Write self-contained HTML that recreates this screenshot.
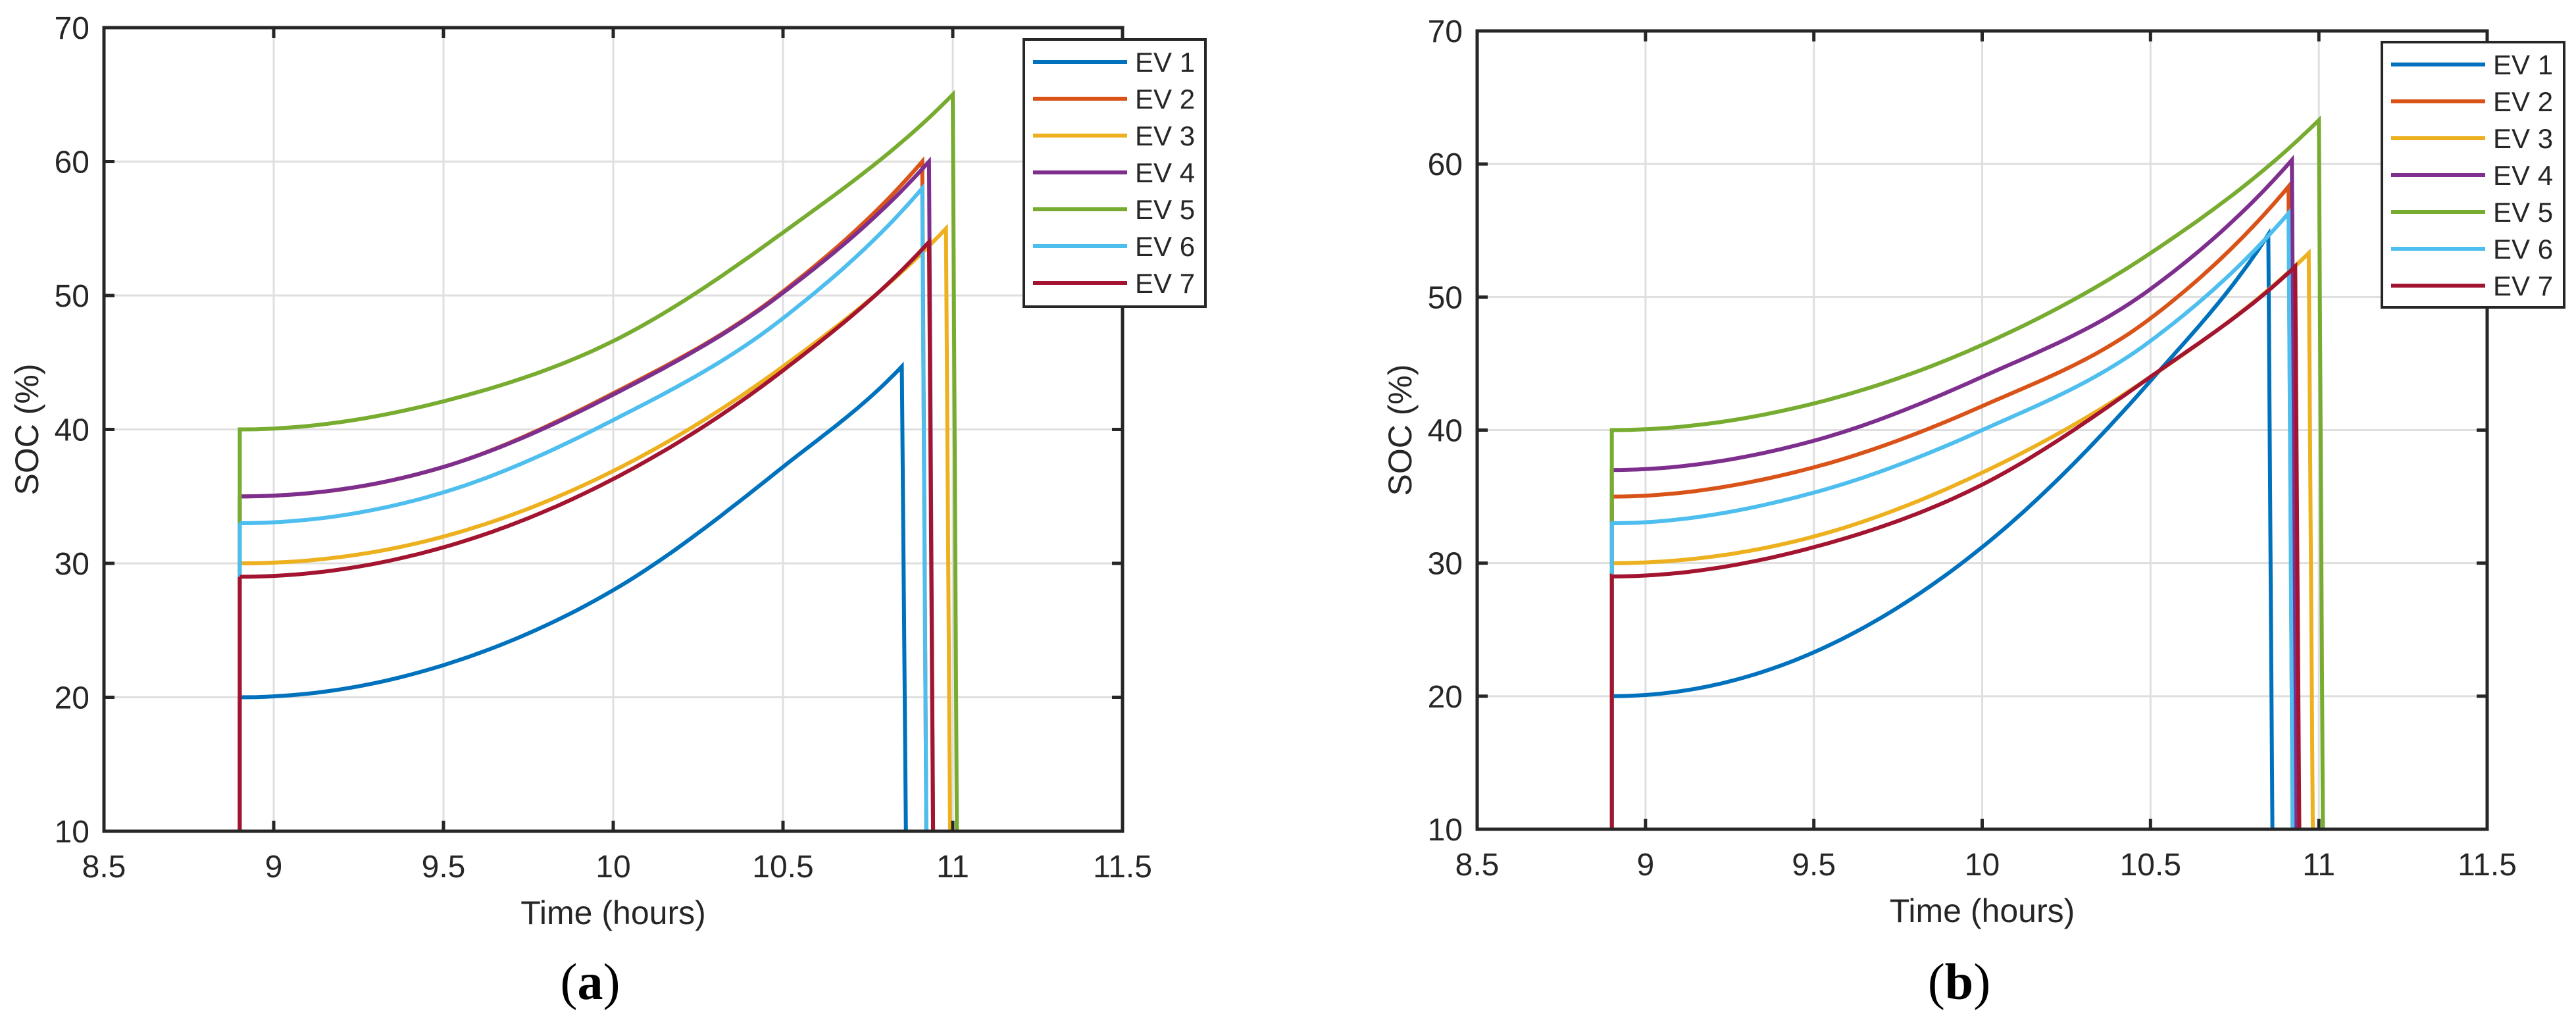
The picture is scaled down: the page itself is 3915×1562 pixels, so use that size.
<!DOCTYPE html>
<html><head><meta charset="utf-8">
<style>
html,body{margin:0;padding:0;background:#fff;}
svg{display:block;}
text{font-family:"Liberation Sans",Arial,sans-serif;fill:#262626;}
</style></head>
<body>
<svg id="fig" width="3915" height="1562" viewBox="0 0 3915 1562" xmlns="http://www.w3.org/2000/svg"></svg>
<script>
// ---- data ----
const seriesNames = ["EV 1","EV 2","EV 3","EV 4","EV 5","EV 6","EV 7"];
const seriesColors = ["#0072BD","#D95319","#EDB120","#7E2F8E","#77AC30","#4DBEEE","#A2142F"];
const xTicks = [8.5,9,9.5,10,10.5,11,11.5];
const xTickLabels = ["8.5","9","9.5","10","10.5","11","11.5"];
const yTicks = [10,20,30,40,50,60,70];
const yTickLabels = ["10","20","30","40","50","60","70"];
const sampleTimes = [9.5, 10, 10.5];
const startTime = 8.9;
// panel (a)
const aStartSOC = [20,35,30,35,40,33,29];
const aMidSOC = [[22.4,28.0,37.2],[37.2,42.7,50.3],[32.0,36.9,44.7],[37.2,42.6,50.2],[42.1,46.6,54.7],[35.3,40.7,48.3],[31.2,36.3,44.4]];
const aPeakSOC = [44.7,60,55,60,65,58,54];
const aEndTime = [10.85,10.91,10.98,10.93,11.0,10.91,10.93];
// panel (b)
const bStartSOC = [20,35,30,37,40,33,29];
const bMidSOC = [[23.3,31.2,43.7],[37.2,41.8,48.4],[32.0,36.8,44.0],[39.2,44.0,50.6],[42.0,46.4,53.3],[35.3,40.0,46.7],[31.2,35.9,44.0]];
const bPeakSOC = [54.7,58.3,53.3,60.3,63.3,56.3,52.3];
const bEndTime = [10.85,10.91,10.97,10.92,11.0,10.91,10.93];

const NS = "http://www.w3.org/2000/svg";
const svg = document.getElementById('fig');
function mk(tag, attrs, parent){const e=document.createElementNS(NS,tag);for(const k in attrs)e.setAttribute(k,attrs[k]);(parent||svg).appendChild(e);return e;}

function smoothCurve(xs, ys, n){
  const m=xs.length, d=[], s=[];
  for(let i=0;i<m-1;i++){d.push((ys[i+1]-ys[i])/(xs[i+1]-xs[i]));}
  for(let i=0;i<m;i++){
    if(i===0) s.push(0);
    else if(i===m-1) s.push(d[m-2]*1.25);
    else {
      const h0=xs[i]-xs[i-1], h1=xs[i+1]-xs[i];
      s.push((d[i-1]*h1+d[i]*h0)/(h0+h1));
    }
  }
  const out=[];
  for(let i=0;i<m-1;i++){
    const h=xs[i+1]-xs[i];
    for(let k=0;k<n;k++){
      const t=k/n, t2=t*t, t3=t2*t;
      const y=(2*t3-3*t2+1)*ys[i]+(t3-2*t2+t)*h*s[i]+(-2*t3+3*t2)*ys[i+1]+(t3-t2)*h*s[i+1];
      out.push([xs[i]+t*h,y]);
    }
  }
  out.push([xs[m-1],ys[m-1]]);
  return out;
}

function panel(id, box, startSOC, midSOC, peakSOC, endTime, legend, lab){
  const g = mk('g',{});
  
  
  const {L,R,T,B} = box;
  const sx = v => L + (v-8.5)/(11.5-8.5)*(R-L);
  const sy = v => B - (v-10)/(70-10)*(B-T);
  xTicks.forEach((t,i)=>{
    if(i>0&&i<xTicks.length-1){
      const l=mk('line',{x1:sx(t),x2:sx(t),y1:T,y2:B,stroke:'#dfdfdf','stroke-width':3},g);
      
      
    }
  });
  yTicks.forEach((t,i)=>{
    if(i>0&&i<yTicks.length-1){
      const l=mk('line',{x1:L,x2:R,y1:sy(t),y2:sy(t),stroke:'#dfdfdf','stroke-width':3},g);
      
      
    }
  });
  seriesNames.forEach((nm,i)=>{
    const xs=[startTime].concat(sampleTimes,[endTime[i]]);
    const ys=[startSOC[i]].concat(midSOC[i],[peakSOC[i]]);
    const pts=smoothCurve(xs,ys,24);
    let d='M'+sx(startTime)+','+sy(10)+' L'+sx(startTime)+','+sy(startSOC[i]);
    pts.forEach(p=>{d+=' L'+sx(p[0]).toFixed(1)+','+sy(p[1]).toFixed(1);});
    d+=' L'+sx(endTime[i]+0.012).toFixed(1)+','+sy(10);
    const p=mk('path',{d:d,fill:'none',stroke:seriesColors[i],'stroke-width':6,'stroke-linejoin':'miter'},g);
    
    
  });
  const fr=mk('rect',{x:L,y:T,width:R-L,height:B-T,fill:'none',stroke:'#262626','stroke-width':5},g);
  
  
  xTicks.forEach((t,i)=>{
    mk('line',{x1:sx(t),x2:sx(t),y1:B,y2:B-16,stroke:'#262626','stroke-width':5},g);
    mk('line',{x1:sx(t),x2:sx(t),y1:T,y2:T+16,stroke:'#262626','stroke-width':5},g);
    const tx=mk('text',{x:sx(t),y:B+70,'font-size':48,'text-anchor':'middle'},g);
    tx.textContent=xTickLabels[i];
    
    
  });
  yTicks.forEach((t,i)=>{
    mk('line',{x1:L,x2:L+16,y1:sy(t),y2:sy(t),stroke:'#262626','stroke-width':5},g);
    mk('line',{x1:R,x2:R-16,y1:sy(t),y2:sy(t),stroke:'#262626','stroke-width':5},g);
    const tx=mk('text',{x:L-22,y:sy(t)+17,'font-size':48,'text-anchor':'end'},g);
    tx.textContent=yTickLabels[i];
    
    
  });
  const xt=mk('text',{x:(L+R)/2,y:B+141,'font-size':50,'text-anchor':'middle'},g);
  xt.textContent='Time (hours)';
  
  
  const yx=L-100, yy=(T+B)/2;
  const yt=mk('text',{x:yx,y:yy,'font-size':50,'text-anchor':'middle',transform:'rotate(-90 '+yx+' '+yy+')'},g);
  yt.textContent='SOC (%)';
  
  
  const lg=mk('g',{},g);
  
  
  mk('rect',{x:legend.x,y:legend.y,width:legend.w,height:legend.h,fill:'#fff',stroke:'#262626','stroke-width':4},lg);
  seriesNames.forEach((nm,i)=>{
    const cy=legend.y+34+i*56;
    const e=mk('g',{},lg);
    
    
    mk('line',{x1:legend.x+14,x2:legend.x+157,y1:cy,y2:cy,stroke:seriesColors[i],'stroke-width':6},e);
    const tx=mk('text',{x:legend.x+169,y:cy+15,'font-size':42,fill:'#000'},e);
    tx.textContent=nm;
  });
  const pl=mk('text',{x:(L+R)/2-35,y:1518,'text-anchor':'middle',style:'font-family:"Liberation Serif",serif;font-size:78px;fill:#000'},g);
  
  
  pl.innerHTML='(<tspan font-weight="bold">'+lab+'</tspan>)';
}

panel('a',{L:158,R:1706,T:42,B:1263},aStartSOC,aMidSOC,aPeakSOC,aEndTime,{x:1556,y:60,w:276,h:406},'a');
panel('b',{L:2245,R:3780,T:47,B:1260},bStartSOC,bMidSOC,bPeakSOC,bEndTime,{x:3620,y:64,w:277,h:403},'b');
</script>
</body></html>
